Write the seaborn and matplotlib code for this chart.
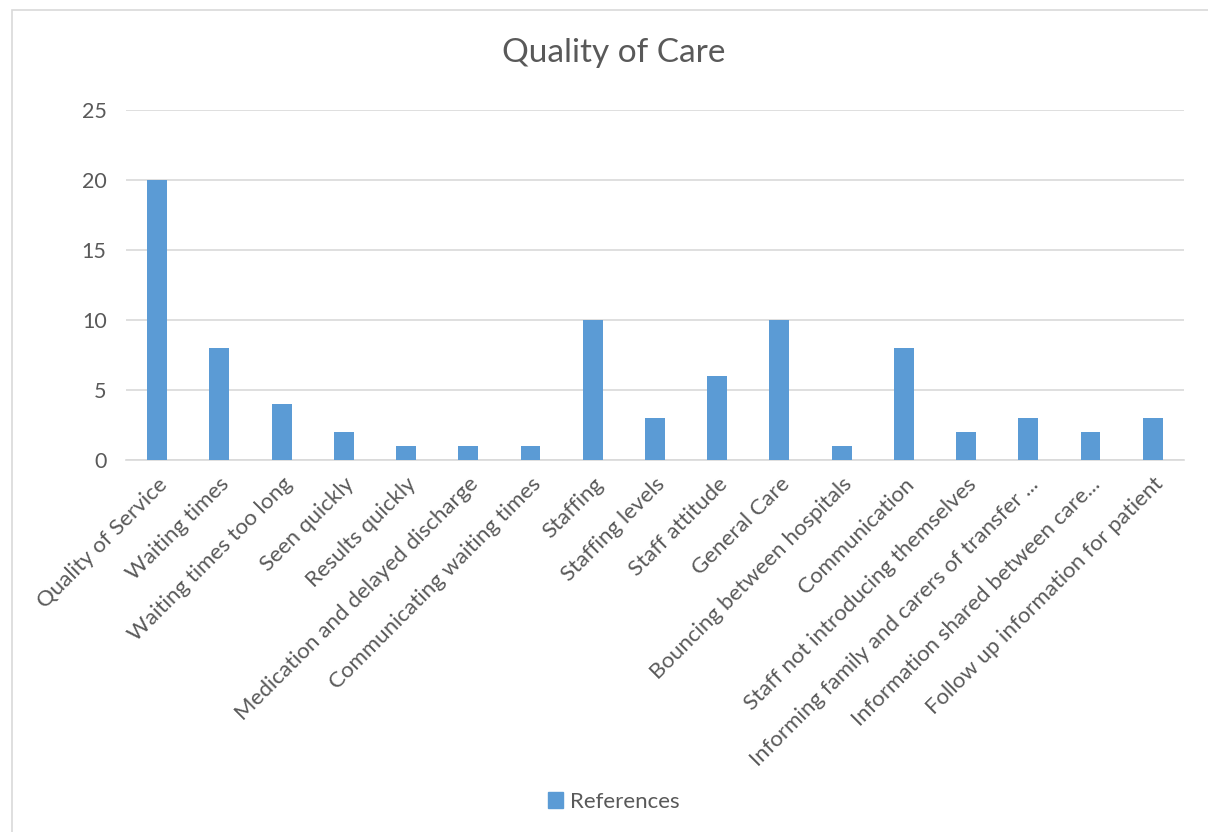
import matplotlib
matplotlib.use("Agg")
import matplotlib.pyplot as plt
import matplotlib.patches as mpatches
import seaborn as sns
import pandas as pd

# ── DATA ──────────────────────────────────────────────────
categories = [
    "Quality of Service",
    "Waiting times",
    "Waiting times too long",
    "Seen quickly",
    "Results quickly",
    "Medication and delayed discharge",
    "Communicating waiting times",
    "Staffing",
    "Staffing levels",
    "Staff attitude",
    "General Care",
    "Bouncing between hospitals",
    "Communication",
    "Staff not introducing themselves",
    "Informing family and carers of transfer ...",
    "Information shared between care...",
    "Follow up information for patient",
]
references = [20, 8, 4, 2, 1, 1, 1, 10, 3, 6, 10, 1, 8, 2, 3, 2, 3]
y_ticks = [0, 5, 10, 15, 20, 25]

df = pd.DataFrame({"category": categories, "References": references})

# ── STYLE ─────────────────────────────────────────────────
sns.set_style("white")
plt.rcParams["font.family"] = ["Lato", "DejaVu Sans"]
BAR = "#5B9BD5"
TXT = "#595959"
GRID = "#D9D9D9"

fig = plt.figure(figsize=(12.08, 8.32), dpi=100)
ax = fig.add_axes([0.1043, 0.447, 0.8757, 0.421])

sns.barplot(data=df, x="category", y="References", color=BAR,
            width=0.32, saturation=1, linewidth=0, ax=ax, zorder=3)

ax.set_ylim(0, 25)
ax.set_yticks(y_ticks)
ax.set_yticklabels([str(t) for t in y_ticks], fontsize=15.5, color=TXT)
ax.yaxis.grid(True, color=GRID, linewidth=1.2, zorder=0)
ax.set_xlim(-0.5, len(categories) - 0.5)
ax.set_xticks(range(len(categories)))
ax.set_xticklabels(categories, rotation=45, ha="right",
                   rotation_mode="anchor", fontsize=16, color=TXT)
ax.tick_params(axis="y", length=0, pad=14)
ax.tick_params(axis="x", length=0, pad=10)
ax.set_xlabel("")
ax.set_ylabel("")
for side in ["top", "right", "left"]:
    ax.spines[side].set_visible(False)
ax.spines["bottom"].set_color(GRID)
ax.spines["bottom"].set_linewidth(1.2)

fig.text(0.508, 0.936, "Quality of Care", ha="center", va="center",
         fontsize=24, color=TXT)

handle = mpatches.Patch(color=BAR, label="References")
fig.legend(handles=[handle], loc="center", bbox_to_anchor=(0.508, 0.036),
           frameon=False, fontsize=16, handlelength=0.7, handleheight=0.7,
           handletextpad=0.3, labelcolor=TXT)

# chart area border
fig.patches.append(mpatches.Rectangle((12 / 1208, -0.01), 1.0, 1 - 10 / 832 + 0.01,
                                      transform=fig.transFigure, fill=False,
                                      edgecolor=GRID, linewidth=1.2))

fig.savefig("out.png", dpi=100)
